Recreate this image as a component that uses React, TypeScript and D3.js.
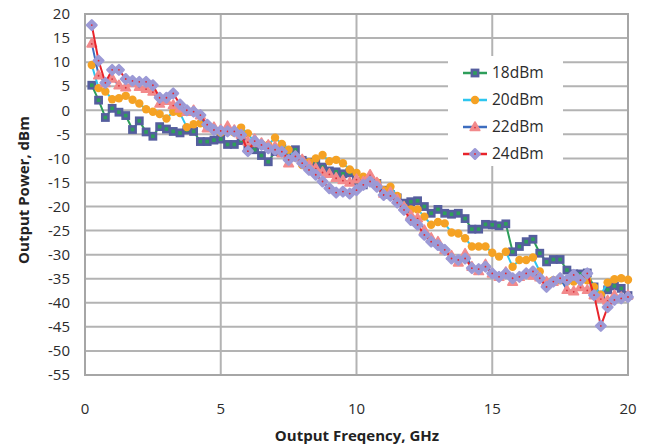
import React from 'react';
import * as d3 from 'd3';

const freqGHz = [
  0.25, 0.5, 0.75, 1.0, 1.25, 1.5, 1.75, 2.0, 2.25, 2.5, 2.75, 3.0, 3.25, 3.5, 3.75, 4.0,
  4.25, 4.5, 4.75, 5.0, 5.25, 5.5, 5.75, 6.0, 6.25, 6.5, 6.75, 7.0, 7.25, 7.5, 7.75, 8.0,
  8.25, 8.5, 8.75, 9.0, 9.25, 9.5, 9.75, 10.0, 10.25, 10.5, 10.75, 11.0, 11.25, 11.5, 11.75, 12.0,
  12.25, 12.5, 12.75, 13.0, 13.25, 13.5, 13.75, 14.0, 14.25, 14.5, 14.75, 15.0, 15.25, 15.5, 15.75, 16.0,
  16.25, 16.5, 16.75, 17.0, 17.25, 17.5, 17.75, 18.0, 18.25, 18.5, 18.75, 19.0, 19.25, 19.5, 19.75, 20.0,
];

const p18dBm = [
  5.2, 2.1, -1.5, 0.4, -0.4, -1.1, -4.0, -2.2, -4.5, -5.4, -3.4, -3.9, -4.4, -4.7, -4.1, -4.4,
  -6.5, -6.5, -6.2, -6.0, -7.1, -7.1, -6.3, -7.6, -8.2, -9.4, -10.7, -8.6, -8.0, -8.8, -8.2, -10.4,
  -10.8, -11.0, -11.8, -12.6, -12.8, -13.2, -13.0, -14.8, -15.5, -14.6, -15.2, -16.6, -17.5, -18.2, -19.3, -19.0,
  -18.8, -20.0, -21.4, -20.6, -21.4, -21.6, -21.4, -22.5, -24.7, -24.7, -23.7, -23.8, -24.0, -23.6, -29.4, -28.3,
  -27.3, -26.8, -29.7, -31.5, -31.0, -31.0, -33.2, -34.0, -34.0, -33.8, -36.7, -38.4, -37.3, -36.5, -37.0, -38.5,
];

const p20dBm = [
  9.4, 4.6, 3.9, 2.3, 2.5, 3.0, 2.2, 1.4, 0.2, -0.3, -0.8, -1.7, -0.3, -0.6, -3.5, -2.9,
  -2.7, -3.5, -4.2, -4.6, -4.4, -4.6, -3.6, -4.8, -6.8, -7.0, -7.2, -5.7, -7.0, -8.2, -9.8, -11.4,
  -10.8, -10.0, -9.3, -10.6, -10.3, -11.0, -12.3, -13.0, -13.8, -14.2, -15.0, -16.6, -15.9, -17.8, -20.2, -20.6,
  -20.6, -22.1, -23.8, -23.2, -23.5, -25.4, -25.6, -26.6, -28.3, -28.3, -28.3, -29.6, -30.4, -29.4, -32.5, -31.1,
  -31.1, -30.6, -33.5, -36.0, -35.3, -35.3, -35.6, -35.6, -35.3, -35.3, -36.7, -38.3, -35.8, -35.1, -34.9, -35.2,
];

const p22dBm = [
  13.9, 7.3, 5.7, 6.6, 5.2, 4.8, 5.7, 4.9, 4.5, 3.9, 1.4, 2.0, 1.1, 0.4, -0.3, 0.0,
  -1.0, -3.7, -3.5, -4.0, -3.3, -4.1, -5.0, -6.5, -6.0, -6.8, -7.2, -7.5, -8.9, -11.0, -9.5, -10.2,
  -11.4, -12.0, -12.8, -13.2, -14.0, -14.5, -15.0, -14.3, -14.8, -13.4, -15.0, -17.3, -17.0, -18.5, -20.0, -21.8,
  -22.4, -24.9, -26.5, -27.3, -29.0, -30.2, -31.6, -29.8, -32.5, -33.4, -32.0, -33.9, -34.6, -33.6, -35.6, -34.6,
  -33.9, -34.3, -34.7, -35.6, -35.6, -34.9, -37.3, -37.6, -36.7, -37.3, -38.4, -39.1, -39.5, -38.4, -38.8, -38.4,
];

const p24dBm = [
  17.7, 10.3, 5.7, 8.4, 8.4, 6.5, 6.1, 5.9, 5.9, 5.2, 2.6, 2.6, 3.5, 1.2, 0.0, -0.3,
  -1.0, -3.0, -4.1, -4.3, -4.4, -4.4, -5.1, -8.5, -6.4, -7.2, -7.9, -8.2, -8.6, -10.3, -9.6, -11.0,
  -12.4, -13.4, -14.8, -16.2, -17.1, -16.9, -17.3, -16.6, -15.5, -14.8, -15.9, -17.6, -17.8, -19.2, -20.7, -22.8,
  -23.8, -25.9, -27.3, -28.0, -29.0, -30.8, -31.1, -30.8, -32.8, -33.0, -32.5, -33.9, -34.6, -33.9, -34.9, -34.6,
  -33.9, -33.5, -34.9, -36.7, -35.6, -34.9, -35.3, -34.2, -35.3, -33.9, -38.4, -44.8, -40.9, -39.4, -39.1, -38.8,
];

const seriesNames = ['18dBm', '20dBm', '22dBm', '24dBm'];
const xTickValues = [0, 5, 10, 15, 20];
const yTickValues = [20, 15, 10, 5, 0, -5, -10, -15, -20, -25, -30, -35, -40, -45, -50, -55];

const FONT = "'Open Sans', 'Liberation Sans', sans-serif";

type Shape = 'square' | 'circle' | 'triangle' | 'diamond';

const seriesStyle: { line: string; marker: string; dot: string; shape: Shape }[] = [
  { line: '#2E9E5B', marker: '#555E9E', dot: '#2E9E5B', shape: 'square' },
  { line: '#2EC6EF', marker: '#F5A224', dot: '#F5A224', shape: 'circle' },
  { line: '#3D6DBF', marker: '#F28A8C', dot: '#D8323C', shape: 'triangle' },
  { line: '#E8242B', marker: '#9C9AD6', dot: '#E8242B', shape: 'diamond' },
];

function Marker({ cx, cy, s }: { cx: number; cy: number; s: typeof seriesStyle[number] }) {
  if (s.shape === 'square') {
    return <rect x={cx - 3.1} y={cy - 3.1} width={6.2} height={6.2} fill={s.dot} stroke={s.marker} strokeWidth={2.6} />;
  }
  if (s.shape === 'circle') {
    return <circle cx={cx} cy={cy} r={4.2} fill={s.marker} />;
  }
  if (s.shape === 'triangle') {
    return (
      <g>
        <path d={`M${cx},${cy - 5}L${cx + 4.8},${cy + 3.5}L${cx - 4.8},${cy + 3.5}Z`} fill={s.marker} stroke={s.marker} strokeWidth={1.6} strokeLinejoin="round" />
        <circle cx={cx} cy={cy + 0.6} r={0.9} fill={s.dot} />
      </g>
    );
  }
  return (
    <g>
      <path d={`M${cx},${cy - 4.8}L${cx + 4.8},${cy}L${cx},${cy + 4.8}L${cx - 4.8},${cy}Z`} fill={s.marker} stroke={s.marker} strokeWidth={2.4} strokeLinejoin="round" />
      <circle cx={cx} cy={cy} r={0.9} fill={s.dot} />
    </g>
  );
}

export default function App() {
  const x = d3.scaleLinear().domain([0, 20]).range([85, 628]);
  const y = d3.scaleLinear().domain([-55, 20]).range([375, 14]);
  const allSeries = [p18dBm, p20dBm, p22dBm, p24dBm];
  const line = d3
    .line<number>()
    .x((_, i) => x(freqGHz[i]))
    .y((d) => y(d));

  const legendX = 463;
  const legendY0 = 73;
  const legendDy = 27;

  return (
    <svg width={650} height={445} style={{ position: 'absolute', left: 0, top: 0, background: '#fff' }} fontFamily={FONT}>
      {yTickValues.map((t) => (
        <line key={'gy' + t} x1={x(0)} x2={x(20)} y1={y(t)} y2={y(t)} stroke="#B3B3B3" strokeWidth={2} />
      ))}
      {xTickValues.map((t) => (
        <line key={'gx' + t} x1={x(t)} x2={x(t)} y1={y(20)} y2={y(-55)} stroke="#B3B3B3" strokeWidth={2} />
      ))}
      <rect x={x(0)} y={y(20)} width={x(20) - x(0)} height={y(-55) - y(20)} fill="none" stroke="#A6A6A6" strokeWidth={2} />

      <rect x={448} y={56} width={115} height={110} fill="#fff" />

      {allSeries.map((vals, si) => {
        const s = seriesStyle[si];
        return (
          <g key={seriesNames[si]}>
            <path d={line(vals) || ''} fill="none" stroke={s.line} strokeWidth={2} strokeLinejoin="round" />
            {vals.map((v, i) => (
              <Marker key={i} cx={x(freqGHz[i])} cy={y(v)} s={s} />
            ))}
          </g>
        );
      })}

      {seriesNames.map((n, i) => {
        const s = seriesStyle[i];
        const ly = legendY0 + i * legendDy;
        return (
          <g key={'lg' + n}>
            <line x1={legendX} x2={legendX + 24} y1={ly} y2={ly} stroke={s.line} strokeWidth={2.5} />
            <Marker cx={legendX + 12} cy={ly} s={s} />
            <text x={legendX + 29} y={ly} dy="0.35em" fontSize={15.5} fill="#2b2b2b">
              {n}
            </text>
          </g>
        );
      })}

      {yTickValues.map((t) => (
        <text key={'ty' + t} x={70} y={y(t)} dy="0.35em" textAnchor="end" fontSize={15} fill="#2b2b2b">
          {t}
        </text>
      ))}
      {xTickValues.map((t) => (
        <text key={'tx' + t} x={x(t)} y={409} dy="0.35em" textAnchor="middle" fontSize={15} fill="#2b2b2b">
          {t}
        </text>
      ))}

      <text x={357} y={436} dy="0.35em" textAnchor="middle" fontSize={15} fontWeight="bold" fill="#222">
        Output Freqency, GHz
      </text>
      <text transform="translate(24,190) rotate(-90)" dy="0.35em" textAnchor="middle" fontSize={15} fontWeight="bold" fill="#222">
        Output Power, dBm
      </text>
    </svg>
  );
}
